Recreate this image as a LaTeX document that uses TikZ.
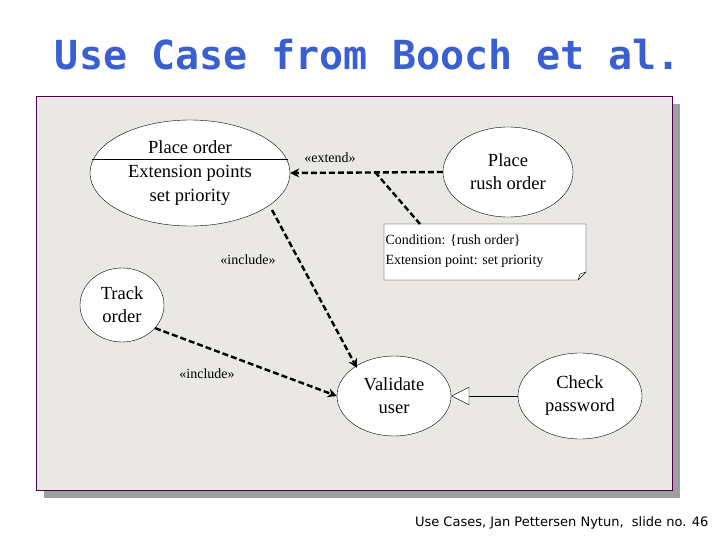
\documentclass[tikz,border=0pt]{standalone}
\usepackage{fontspec}
\setmainfont{Liberation Serif}
\newfontfamily\titlefont{DejaVu Sans Mono}
\newfontfamily\footfont{DejaVu Sans}
\usetikzlibrary{shapes.geometric,arrows.meta}
\definecolor{panel}{HTML}{EAE8E4}
\definecolor{titleblue}{HTML}{3A5FD0}
\begin{document}
\begin{tikzpicture}[x=1pt,y=-1pt,
  uc/.style={draw,ellipse,fill=white,inner sep=0pt,align=center,font=\fontsize{18.5}{23}\selectfont},
  dep/.style={draw,line width=2.4pt,dash pattern=on 6pt off 3pt},
  lbl/.style={font=\fontsize{14}{16}\selectfont}]
\useasboundingbox (0,0) rectangle (720,540);
\fill[white] (0,0) rectangle (720,540);
% title
\node (title) [font=\titlefont\bfseries\fontsize{40}{44}\selectfont,text=titleblue] at (368,55) {Use Case from Booch et al.};
% panel
\fill[gray!75] (44,104) rectangle (680,498);
\draw[fill=panel,draw=violet!60!black] (36,96) rectangle (672,490);
% nodes
\node (po) [uc,minimum width=200,minimum height=106] at (190,173) {};
\draw ([xshift=2]po.west |- 0,159) -- ([xshift=-2]po.east |- 0,159);
\node (pol) [font=\fontsize{18.5}{24}\selectfont,align=center] at (190,173) {Place order\\Extension points\\set priority};
\node (pro) [uc,minimum width=130,minimum height=90] at (508,172) {Place\\rush order};
\node (tr) [uc,minimum width=84,minimum height=74] at (122,305) {Track\\order};
\node (vu) [uc,minimum width=114,minimum height=80] at (394,396) {Validate\\user};
\node (cp) [uc,minimum width=124,minimum height=86] at (580,396) {Check\\password};
% note
\draw[fill=white] (384,224) -- (586,224) -- (586,272) -- (578,280) -- (384,280) -- cycle;
\draw (578,280) -- (580,274) -- (586,272);
\node (note) [font=\fontsize{14}{20}\selectfont,align=left,anchor=west] at (382,251) {Condition: \{rush order\}\\Extension point: set priority};
\coordinate (nt) at (420,224);
\coordinate (mid) at (375,172);
% connectors
\draw[dep,-{Stealth[length=9pt,width=9pt]}] (pro.west) -- (po.east);
\draw[dep] (mid) -- (nt);
\draw[dep,-{Stealth[length=9pt,width=9pt]}] (272,210) -- (357,368);
\draw[dep,-{Stealth[length=9pt,width=9pt]}] (tr.-35) -- (vu.west);
\draw[-{Triangle[open,length=18pt,width=18pt,fill=white]}] (cp.west) -- (vu.east);
\node[lbl] at (330,158) {«extend»};
\node[lbl] at (248,260) {«include»};
\node[lbl] at (207,374) {«include»};
\node (foot) [font=\footfont\fontsize{13}{15}\selectfont,anchor=east] at (712,523) {Use Cases, Jan Pettersen Nytun,\ \ slide no. 46};
\end{tikzpicture}
\end{document}
